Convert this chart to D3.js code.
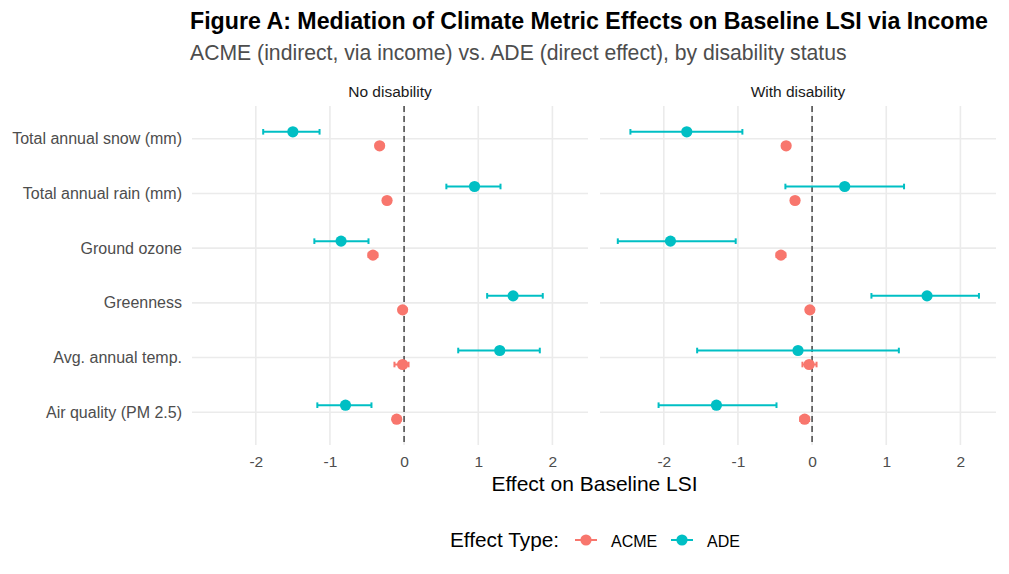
<!DOCTYPE html>
<html>
<head>
  <meta charset="utf-8">
  <title>Figure A: Mediation of Climate Metric Effects</title>
  <style>
    body { margin: 0; background: #fff; }
    text { font-family: "Liberation Sans", Arial, sans-serif; }
    .grid line { stroke: #ebebeb; stroke-width: 1.6; }
    .tick-label { fill: #4d4d4d; font-size: 15.5px; }
  </style>
  <script src="https://d3js.org/d3.v7.min.js"></script>
</head>
<body>
<svg width="1009" height="574"></svg>
<script>
"use strict";

// categories, top to bottom
var metrics = ["Total annual snow (mm)", "Total annual rain (mm)", "Ground ozone",
               "Greenness", "Avg. annual temp.", "Air quality (PM 2.5)"];
var panels = ["No disability", "With disability"];
var effectTypes = ["ACME", "ADE"];
var xTicks = [-2, -1, 0, 1, 2];

// estimates and 95% intervals, in metric order
var acmeNoDis     = [-0.33, -0.23, -0.42, -0.02, -0.02, -0.10];
var acmeNoDisLo   = [-0.38, -0.27, -0.48, -0.07, -0.13, -0.15];
var acmeNoDisHi   = [-0.28, -0.19, -0.36,  0.03,  0.06, -0.05];
var adeNoDis      = [-1.50,  0.95, -0.85,  1.47,  1.29, -0.79];
var adeNoDisLo    = [-1.90,  0.57, -1.21,  1.12,  0.73, -1.17];
var adeNoDisHi    = [-1.14,  1.30, -0.48,  1.87,  1.83, -0.44];

var acmeDis       = [-0.35, -0.23, -0.42, -0.03, -0.04, -0.10];
var acmeDisLo     = [-0.40, -0.28, -0.48, -0.08, -0.13, -0.16];
var acmeDisHi     = [-0.30, -0.18, -0.36,  0.02,  0.06, -0.04];
var adeDis        = [-1.69,  0.44, -1.91,  1.55, -0.19, -1.29];
var adeDisLo      = [-2.45, -0.36, -2.62,  0.80, -1.55, -2.07];
var adeDisHi      = [-0.94,  1.24, -1.03,  2.25,  1.17, -0.48];

var colors = {ACME: "#F8766D", ADE: "#00BFC4"};

// long table built from the arrays
var rows = [];
function addRows(panel, type, est, lo, hi) {
  metrics.forEach(function(m, i) {
    rows.push({panel: panel, type: type, metric: m, est: est[i], lo: lo[i], hi: hi[i]});
  });
}
addRows(panels[0], "ACME", acmeNoDis, acmeNoDisLo, acmeNoDisHi);
addRows(panels[0], "ADE", adeNoDis, adeNoDisLo, adeNoDisHi);
addRows(panels[1], "ACME", acmeDis, acmeDisLo, acmeDisHi);
addRows(panels[1], "ADE", adeDis, adeDisLo, adeDisHi);

var svg = d3.select("svg");
var panelTop = 106, panelBottom = 445;
var panelLeft = {"No disability": 192, "With disability": 600};
var panelWidth = 396;

var y = d3.scalePoint().domain(metrics).range([panelTop, panelBottom]).padding(0.6);
var dodge = d3.scalePoint().domain(["ADE", "ACME"]).range([-7, 7]);

// title + subtitle
svg.append("text")
    .attr("x", 190).attr("y", 29)
    .style("font-size", "23.2px").style("font-weight", "bold").style("fill", "#000")
    .text("Figure A: Mediation of Climate Metric Effects on Baseline LSI via Income");
svg.append("text")
    .attr("x", 190).attr("y", 60)
    .style("font-size", "21.2px").style("fill", "#4d4d4d")
    .text("ACME (indirect, via income) vs. ADE (direct effect), by disability status");

// y labels (shared)
svg.append("g").selectAll("text")
  .data(metrics)
  .enter().append("text")
    .attr("class", "tick-label")
    .style("font-size", "16px")
    .attr("x", 182)
    .attr("y", function(d) { return y(d); })
    .attr("dy", "0.35em")
    .attr("text-anchor", "end")
    .text(function(d) { return d; });

panels.forEach(function(p) {
  var x0 = panelLeft[p];
  var x = d3.scaleLinear().domain([-2.86, 2.48]).range([x0, x0 + panelWidth]);
  var g = svg.append("g");

  // grid
  var grid = g.append("g").attr("class", "grid");
  grid.selectAll(".vx").data(xTicks).enter().append("line")
      .attr("x1", function(d) { return x(d); }).attr("x2", function(d) { return x(d); })
      .attr("y1", panelTop).attr("y2", panelBottom);
  grid.selectAll(".hy").data(metrics).enter().append("line")
      .attr("x1", x0).attr("x2", x0 + panelWidth)
      .attr("y1", function(d) { return y(d); }).attr("y2", function(d) { return y(d); });

  // strip label
  g.append("text")
      .attr("x", x0 + panelWidth / 2).attr("y", 96.5)
      .attr("text-anchor", "middle")
      .style("font-size", "15.5px").style("fill", "#1a1a1a")
      .text(p);

  // x axis labels
  var ax = g.append("g")
      .attr("transform", "translate(0," + panelBottom + ")")
      .call(d3.axisBottom(x).tickValues(xTicks).tickSize(0).tickPadding(11)
              .tickFormat(function(d) { return String(d); }));
  ax.select(".domain").remove();
  ax.selectAll("text").attr("class", "tick-label").attr("fill", null)
      .style("font-family", null).style("font-size", null);

  // zero line
  g.append("line")
      .attr("x1", x(0)).attr("x2", x(0))
      .attr("y1", panelTop).attr("y2", panelBottom)
      .attr("stroke", "#595959").attr("stroke-width", 1.7)
      .attr("stroke-dasharray", "6,4");

  var data = rows.filter(function(d) { return d.panel === p; });

  var pr = g.selectAll(".pr")
    .data(data)
    .enter().append("g")
      .attr("transform", function(d) { return "translate(0," + (y(d.metric) + dodge(d.type)) + ")"; });

  pr.append("line")
      .attr("x1", function(d) { return x(d.lo); })
      .attr("x2", function(d) { return x(d.hi); })
      .attr("stroke", function(d) { return colors[d.type]; })
      .attr("stroke-width", 2);
  pr.append("line")
      .attr("x1", function(d) { return x(d.lo); }).attr("x2", function(d) { return x(d.lo); })
      .attr("y1", -2.8).attr("y2", 2.8)
      .attr("stroke", function(d) { return colors[d.type]; }).attr("stroke-width", 2);
  pr.append("line")
      .attr("x1", function(d) { return x(d.hi); }).attr("x2", function(d) { return x(d.hi); })
      .attr("y1", -2.8).attr("y2", 2.8)
      .attr("stroke", function(d) { return colors[d.type]; }).attr("stroke-width", 2);
  pr.append("circle")
      .attr("cx", function(d) { return x(d.est); })
      .attr("r", 5.6)
      .attr("fill", function(d) { return colors[d.type]; });
});

// x title
svg.append("text")
    .attr("x", (192 + 997) / 2).attr("y", 491)
    .attr("text-anchor", "middle")
    .style("font-size", "21px").style("fill", "#000")
    .text("Effect on Baseline LSI");

// legend
var lg = svg.append("g").attr("transform", "translate(0,540)");
lg.append("text")
    .attr("x", 450).attr("y", 7)
    .style("font-size", "20.8px").style("fill", "#000")
    .text("Effect Type:");
var keyX = {ACME: 586, ADE: 682};
effectTypes.forEach(function(t) {
  lg.append("line")
      .attr("x1", keyX[t] - 11).attr("x2", keyX[t] + 11)
      .attr("stroke", colors[t]).attr("stroke-width", 2);
  lg.append("circle")
      .attr("cx", keyX[t]).attr("r", 5.6).attr("fill", colors[t]);
  lg.append("text")
      .attr("x", keyX[t] + 25).attr("y", 6.5)
      .style("font-size", "16px").style("fill", "#000")
      .text(t);
});
</script>
</body>
</html>
